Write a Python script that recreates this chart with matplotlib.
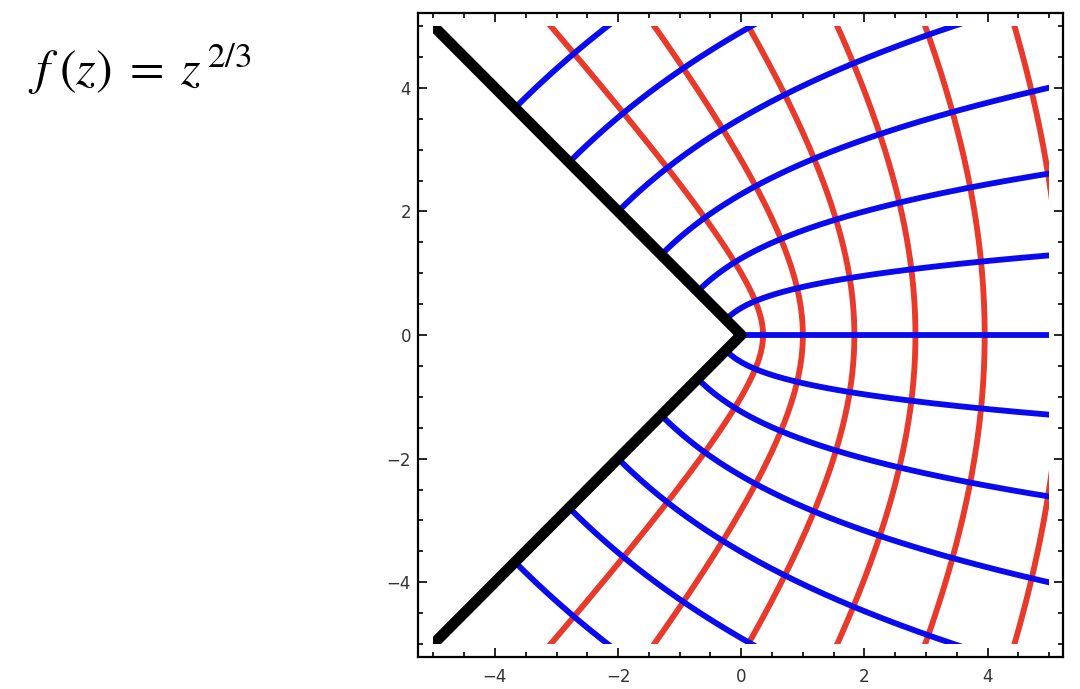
import numpy as np
import matplotlib.pyplot as plt
from matplotlib.patches import Rectangle

# level values in the w-plane (w = z^(2/3)), images drawn under z = w^(3/2)
red_levels = [0.0, 0.5, 1.0, 1.5, 2.0, 2.5, 3.0]       # Re(w) = c
blue_levels = [-3.0, -2.5, -2.0, -1.5, -1.0, -0.5, 0.0,
               0.5, 1.0, 1.5, 2.0, 2.5, 3.0]             # Im(w) = c
box = 5.0
xlim = (-5.25, 5.22)
ylim = (-5.21, 5.21)
ticks = [-4, -2, 0, 2, 4]
tick_labels = ['\u22124', '\u22122', '0', '2', '4']

red = '#e8392a'
blue = '#0a0af0'

fig = plt.figure(figsize=(10.8, 6.89), dpi=100)
ax = fig.add_axes([0.387, 0.0464, 0.597, 0.9347])
clip = Rectangle((-box, -box), 2 * box, 2 * box, transform=ax.transData)

t = np.linspace(-9, 9, 4001)
s = np.linspace(0, 9, 3001)

for c in red_levels:
    z = (c + 1j * t) ** 1.5
    ln, = ax.plot(z.real, z.imag, color=red, lw=4.2, solid_capstyle='butt', zorder=2)
    ln.set_clip_path(clip)

for c in blue_levels:
    z = (s + 1j * c) ** 1.5
    ln, = ax.plot(z.real, z.imag, color=blue, lw=4.2, solid_capstyle='butt', zorder=3)
    ln.set_clip_path(clip)

# boundary of the wedge (image of Re(w) = 0)
z = (1j * t) ** 1.5
ln, = ax.plot(z.real, z.imag, color='black', lw=7.8, solid_capstyle='butt', zorder=4)
ln.set_clip_path(clip)

ax.set_xlim(*xlim)
ax.set_ylim(*ylim)
ax.set_xticks(ticks)
ax.set_yticks(ticks)
ax.set_xticks(np.arange(-5, 5.01, 0.5), minor=True)
ax.set_yticks(np.arange(-5, 5.01, 0.5), minor=True)
ax.set_xticklabels(tick_labels)
ax.set_yticklabels(tick_labels)
ax.tick_params(which='both', direction='in', top=True, right=True, width=1.2,
               labelsize=12, labelcolor='#333333')
ax.tick_params(which='major', length=6.5)
ax.tick_params(which='minor', length=3.6)
ax.tick_params(axis='x', pad=8)
ax.tick_params(axis='y', pad=5)
for sp in ax.spines.values():
    sp.set_linewidth(1.6)

plt.rcParams['mathtext.fontset'] = 'stix'
fig.text(0.026, 0.877, r'$f\;(z)\;=\;z^{\,2/3}$', fontsize=36, ha='left', va='baseline',
         family='STIXGeneral')

fig.savefig('out.png', dpi=100)
